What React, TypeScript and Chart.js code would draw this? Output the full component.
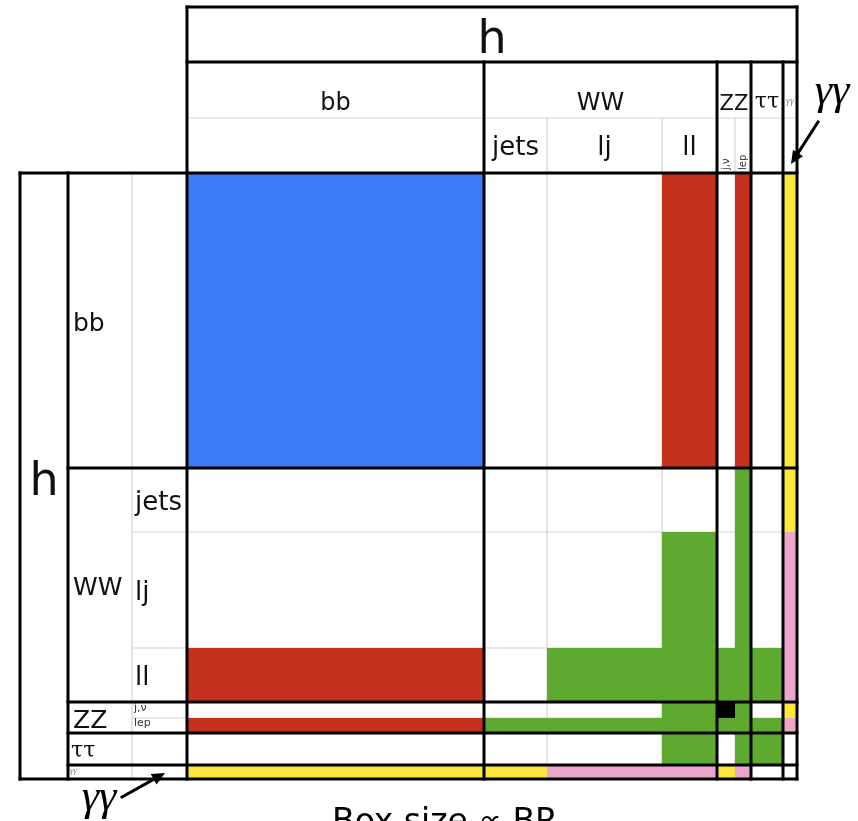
import React, { useEffect, useRef } from "react";
import { Chart, registerables } from "chart.js";

Chart.register(...registerables);

// ---- data ----
const groupLabels = ["bb", "WW", "ZZ", "ττ", "γγ"];
const groupStart = [0, 1, 4, 6, 7]; // first sub-index of each group
const subLabels = ["", "jets", "lj", "ll", "j,ν", "lep", "", ""];
const colSizes = [297, 63, 115, 55, 18, 16, 32, 14];
const rowSizes = [295, 64, 116, 54, 16, 15, 32, 14];
const headerRowSizes = [55, 56, 55];
const headerColSizes = [48, 64, 55];
// cell colour codes: b blue, r red, g green, y yellow, p pink, k black, "" empty
const cellRows: string[][] = [
  ["b", "", "", "r", "", "r", "", "y"],
  ["", "", "", "", "", "g", "", "y"],
  ["", "", "", "g", "", "g", "", "p"],
  ["r", "", "g", "g", "g", "g", "g", "p"],
  ["", "", "", "g", "k", "g", "", "y"],
  ["r", "g", "g", "g", "g", "g", "g", "p"],
  ["", "", "", "g", "", "g", "g", ""],
  ["y", "y", "p", "p", "y", "p", "", ""],
];
const palette: Record<string, string> = {
  b: "#3c7bf6",
  r: "#c5311c",
  g: "#5eaa31",
  y: "#f9e73c",
  p: "#eca5cb",
  k: "#000000",
};
const mainTitle = "h";
const footer = "Box size ∝ BR";
const photonLabel = "γγ";

const sum = (a: number[]) => a.reduce((s, v) => s + v, 0);
const cum = (a: number[]) => {
  const out = [0];
  a.forEach((v) => out.push(out[out.length - 1] + v));
  return out;
};

const SANS = '"DejaVu Sans", "Open Sans", sans-serif';
const SERIF = '"DejaVu Serif", "Liberation Serif", serif';
const TIMES = '"Liberation Serif", "DejaVu Serif", serif';

function arrow(ctx: CanvasRenderingContext2D, x1: number, y1: number, x2: number, y2: number) {
  const ang = Math.atan2(y2 - y1, x2 - x1);
  const hl = 13;
  const hw = 6;
  const bx = x2 - hl * Math.cos(ang);
  const by = y2 - hl * Math.sin(ang);
  ctx.save();
  ctx.strokeStyle = "#000";
  ctx.fillStyle = "#000";
  ctx.lineWidth = 3;
  ctx.beginPath();
  ctx.moveTo(x1, y1);
  ctx.lineTo(bx, by);
  ctx.stroke();
  ctx.beginPath();
  ctx.moveTo(x2, y2);
  ctx.lineTo(bx + hw * Math.sin(ang), by - hw * Math.cos(ang));
  ctx.lineTo(bx - hw * Math.sin(ang), by + hw * Math.cos(ang));
  ctx.closePath();
  ctx.fill();
  ctx.restore();
}

const matrixPlugin = {
  id: "matrixPlugin",
  beforeDraw(chart: any) {
    const ctx = chart.ctx;
    ctx.save();
    ctx.fillStyle = "#fff";
    ctx.fillRect(0, 0, chart.width, chart.height);
    ctx.restore();
  },
  afterDraw(chart: any) {
    const ctx: CanvasRenderingContext2D = chart.ctx;
    const xs = chart.scales.x;
    const ys = chart.scales.y;
    const cx = cum(colSizes).map((v) => xs.getPixelForValue(v));
    const cy = cum(rowSizes).map((v) => ys.getPixelForValue(v));
    const hTot = sum(headerRowSizes);
    const hy = cum(headerRowSizes).map((v) => ys.getPixelForValue(v - hTot));
    const wTot = sum(headerColSizes);
    const hx = cum(headerColSizes).map((v) => xs.getPixelForValue(v - wTot));
    const L = cx[0], R = cx[cx.length - 1], T = cy[0], B = cy[cy.length - 1];

    ctx.save();
    // grey sub lines
    ctx.strokeStyle = "#d3d3d3";
    ctx.lineWidth = 1.2;
    const line = (x1: number, y1: number, x2: number, y2: number) => {
      ctx.beginPath();
      ctx.moveTo(x1, y1);
      ctx.lineTo(x2, y2);
      ctx.stroke();
    };
    line(L, hy[2], R, hy[2]);
    line(hx[2], T, hx[2], B);
    [2, 3, 5].forEach((i) => {
      line(cx[i], hy[2], cx[i], B);
      line(hx[2], cy[i], R, cy[i]);
    });

    // cells
    for (let r = 0; r < cellRows.length; r++) {
      for (let c = 0; c < cellRows[r].length; c++) {
        const code = cellRows[r][c];
        if (!code) continue;
        ctx.fillStyle = palette[code];
        ctx.fillRect(cx[c], cy[r], cx[c + 1] - cx[c], cy[r + 1] - cy[r]);
      }
    }

    // black lines
    ctx.strokeStyle = "#000";
    ctx.lineWidth = 3;
    ctx.lineCap = "square";
    line(L, hy[0], R, hy[0]);
    line(L, hy[1], R, hy[1]);
    line(L, hy[0], L, B);
    line(R, hy[0], R, B);
    line(hx[0], T, R, T);
    line(hx[0], B, R, B);
    line(hx[0], T, hx[0], B);
    line(hx[1], T, hx[1], B);
    groupStart.slice(1).forEach((i) => {
      line(cx[i], hy[1], cx[i], B);
      line(hx[1], cy[i], R, cy[i]);
    });

    // texts
    ctx.fillStyle = "#111";
    ctx.textBaseline = "alphabetic";
    ctx.font = `46px ${SANS}`;
    ctx.textAlign = "center";
    ctx.fillText(mainTitle, (L + R) / 2, hy[1] - 9);
    ctx.fillText(mainTitle, (hx[0] + hx[1]) / 2, (T + B) / 2 + 19);

    // group headers
    groupLabels.forEach((lab, g) => {
      const s = groupStart[g];
      const e = g + 1 < groupStart.length ? groupStart[g + 1] : colSizes.length;
      const mx = (cx[s] + cx[e]) / 2;
      const my = (cy[s] + cy[e]) / 2;
      ctx.fillStyle = "#111";
      if (lab === "γγ") {
        ctx.fillStyle = "#8a8a8a";
        ctx.font = `italic 10px ${TIMES}`;
        ctx.textAlign = "center";
        ctx.fillText(lab, mx, hy[2] - 14);
        ctx.textAlign = "left";
        ctx.font = `italic 9px ${TIMES}`;
        ctx.fillText(lab, hx[1] + 2, cy[s] + 8);
        return;
      }
      if (lab === "ττ") {
        ctx.font = `22px ${SERIF}`;
        ctx.textAlign = "center";
        ctx.fillText(lab, mx, hy[2] - 10);
        ctx.textAlign = "left";
        ctx.fillText(lab, hx[1] + 3, my + 8);
        return;
      }
      ctx.font = `${lab === "ZZ" ? 21 : 24}px ${SANS}`;
      ctx.textAlign = "center";
      ctx.fillText(lab, mx, hy[2] - 8);
      ctx.textAlign = "left";
      ctx.font = `${lab === "ZZ" ? 25 : 25}px ${SANS}`;
      ctx.fillText(lab, hx[1] + 5, my + 10);
    });

    // sub headers
    subLabels.forEach((lab, i) => {
      if (!lab) return;
      const mx = (cx[i] + cx[i + 1]) / 2;
      const my = (cy[i] + cy[i + 1]) / 2;
      ctx.fillStyle = "#111";
      if (i >= 4 && i <= 5) {
        ctx.fillStyle = "#333";
        ctx.font = `10px ${SANS}`;
        ctx.save();
        ctx.translate(mx + 3, T - 3);
        ctx.rotate(-Math.PI / 2);
        ctx.textAlign = "left";
        ctx.fillText(lab, 0, 0);
        ctx.restore();
        ctx.save();
        ctx.beginPath();
        ctx.rect(hx[2], cy[i], hx[3] - hx[2], cy[i + 1] - cy[i]);
        ctx.clip();
        ctx.textAlign = "left";
        ctx.font = `11px ${SANS}`;
        ctx.fillText(lab, hx[2] + 2, cy[i] + (i === 4 ? 9 : 8));
        ctx.restore();
        return;
      }
      ctx.font = `26px ${SANS}`;
      ctx.textAlign = "center";
      ctx.fillText(lab, mx, T - 18);
      ctx.textAlign = "left";
      ctx.fillText(lab, hx[2] + 3, my + 10);
    });

    // photon annotations
    ctx.fillStyle = "#000";
    ctx.font = `italic 44px ${TIMES}`;
    ctx.textAlign = "center";
    ctx.fillText(photonLabel, R + 35, hy[1] + 42);
    arrow(ctx, R + 21, hy[1] + 60, (cx[7] + cx[8]) / 2 + 1, T - 9);
    ctx.fillText(photonLabel, hx[0] + 79, B + 31);
    arrow(ctx, hx[0] + 102, B + 18, hx[2] + 33, (cy[7] + cy[8]) / 2 + 1);

    // footer
    ctx.font = `33px ${SANS}`;
    ctx.textAlign = "center";
    ctx.fillText(footer, 445, B + 53);
    ctx.restore();
  },
};

export default function App() {
  const ref = useRef<HTMLCanvasElement | null>(null);
  useEffect(() => {
    if (!ref.current) return;
    const chart = new Chart(ref.current, {
      type: "scatter",
      data: { datasets: [] },
      options: {
        animation: false,
        responsive: false,
        maintainAspectRatio: false,
        layout: { padding: { left: 187, right: 61, top: 173, bottom: 42 } },
        plugins: { legend: { display: false }, tooltip: { enabled: false } },
        scales: {
          x: { type: "linear", min: 0, max: sum(colSizes), display: false },
          y: { type: "linear", min: 0, max: sum(rowSizes), reverse: true, display: false },
        },
      },
      plugins: [matrixPlugin],
    } as any);
    return () => chart.destroy();
  }, []);
  return (
    <div style={{ position: "absolute", left: 0, top: 0, width: 858, height: 821, background: "#fff" }}>
      <canvas ref={ref} width={858} height={821} style={{ display: "block" }} />
    </div>
  );
}
